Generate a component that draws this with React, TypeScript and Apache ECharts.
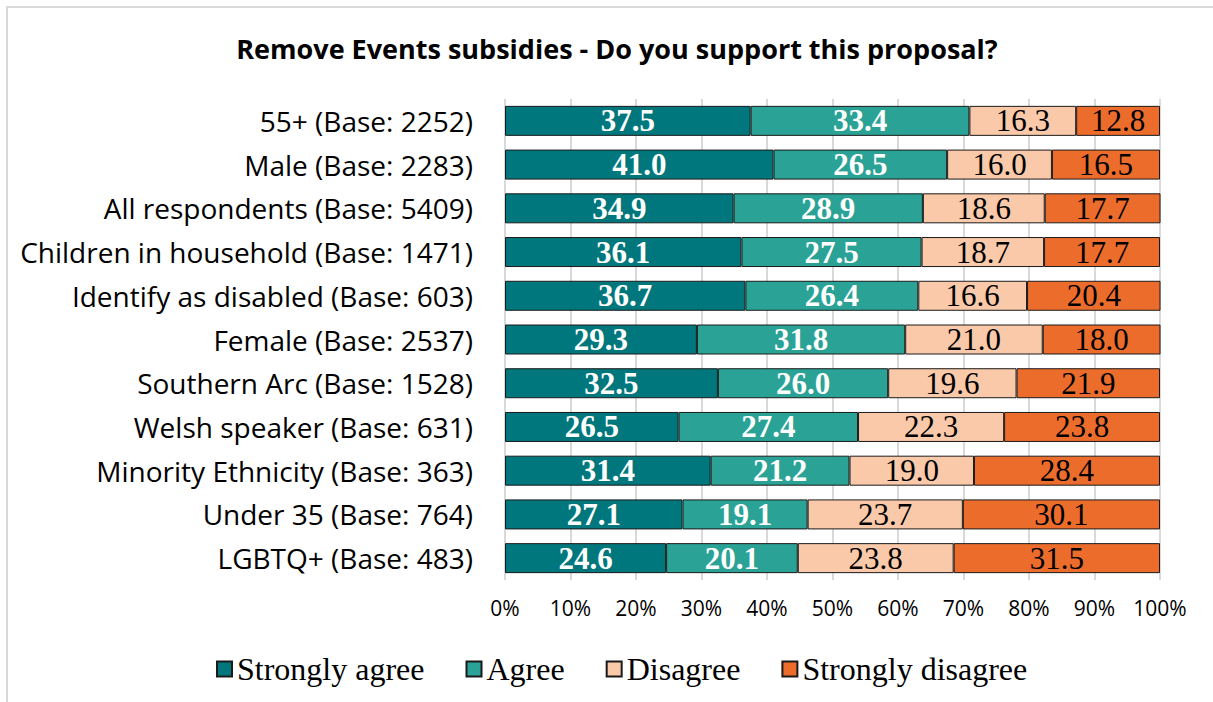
import React, { useEffect, useRef } from "react";
import * as echarts from "echarts";

const categories = [
  "55+ (Base: 2252)",
  "Male (Base: 2283)",
  "All respondents (Base: 5409)",
  "Children in household (Base: 1471)",
  "Identify as disabled (Base: 603)",
  "Female (Base: 2537)",
  "Southern Arc (Base: 1528)",
  "Welsh speaker (Base: 631)",
  "Minority Ethnicity (Base: 363)",
  "Under 35 (Base: 764)",
  "LGBTQ+ (Base: 483)",
];

const stronglyAgree = [37.5, 41.0, 34.9, 36.1, 36.7, 29.3, 32.5, 26.5, 31.4, 27.1, 24.6];
const agree = [33.4, 26.5, 28.9, 27.5, 26.4, 31.8, 26.0, 27.4, 21.2, 19.1, 20.1];
const disagree = [16.3, 16.0, 18.6, 18.7, 16.6, 21.0, 19.6, 22.3, 19.0, 23.7, 23.8];
const stronglyDisagree = [12.8, 16.5, 17.7, 17.7, 20.4, 18.0, 21.9, 23.8, 28.4, 30.1, 31.5];

const seriesNames = ["Strongly agree", "Agree", "Disagree", "Strongly disagree"];
const seriesColors = ["#00777C", "#2AA396", "#F9C9A9", "#EC6C2C"];
const labelColors = ["#ffffff", "#ffffff", "#000000", "#000000"];
const labelWeights = ["bold", "bold", "normal", "normal"];

export default function App() {
  const ref = useRef<HTMLDivElement>(null);

  useEffect(() => {
    if (!ref.current) return;
    const chart = echarts.init(ref.current, null, { renderer: "svg" });
    const data = [stronglyAgree, agree, disagree, stronglyDisagree];
    chart.setOption({
      animation: false,
      backgroundColor: "#ffffff",
      title: {
        text: "Remove Events subsidies - Do you support this proposal?",
        left: 612,
        textAlign: "center",
        top: 30,
        textStyle: {
          fontFamily: "Open Sans",
          fontWeight: "bold",
          fontSize: 27,
          color: "#000",
        },
      },
      graphic: [
        {
          type: "rect",
          shape: { x: 7, y: 7, width: 1400, height: 900 },
          style: { fill: "none", stroke: "#d9d9d9", lineWidth: 2 },
          silent: true,
        },
      ],
      legend: {
        data: seriesNames,
        left: 211,
        top: 648,
        itemWidth: 15,
        itemHeight: 15,
        itemGap: 41,
        icon: "rect",
        textStyle: {
          fontFamily: "Liberation Serif",
          fontSize: 32,
          color: "#000",
        },
      },
      grid: {
        left: 505,
        right: 53,
        top: 99,
        bottom: 122,
        containLabel: false,
      },
      xAxis: {
        type: "value",
        min: 0,
        max: 100,
        interval: 10,
        axisLine: { show: false },
        axisTick: { show: false },
        splitLine: { show: true, lineStyle: { color: "#d9d9d9", width: 2 } },
        axisLabel: {
          formatter: "{value}%",
          fontFamily: "Open Sans",
          fontSize: 21,
          color: "#000",
          margin: 17,
        },
      },
      yAxis: {
        type: "category",
        data: categories,
        inverse: true,
        axisLine: { show: false },
        axisTick: { show: false },
        axisLabel: {
          fontFamily: "Open Sans",
          fontSize: 28,
          color: "#000",
          margin: 32,
        },
      },
      series: seriesNames.map((name, i) => ({
        name,
        type: "bar",
        stack: "total",
        barWidth: 30,
        data: data[i],
        itemStyle: {
          color: seriesColors[i],
          borderColor: "#1a1a1a",
          borderWidth: 1,
        },
        label: {
          show: true,
          position: "inside",
          formatter: (p: any) => Number(p.value).toFixed(1),
          fontFamily: "Liberation Serif",
          fontSize: 31,
          fontWeight: labelWeights[i],
          color: labelColors[i],
        },
      })),
    });
    return () => chart.dispose();
  }, []);

  return (
    <div
      ref={ref}
      style={{ position: "fixed", left: 0, top: 0, width: 1213, height: 702 }}
    />
  );
}
